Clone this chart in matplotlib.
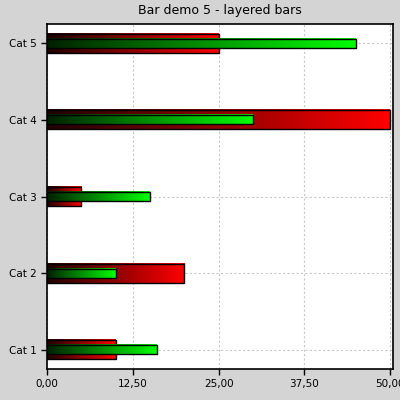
import numpy as np
import matplotlib
matplotlib.use('Agg')
import matplotlib.pyplot as plt
from matplotlib.colors import LinearSegmentedColormap
from matplotlib.patches import Rectangle
from matplotlib.ticker import FuncFormatter

# data
categories = ['Cat 1', 'Cat 2', 'Cat 3', 'Cat 4', 'Cat 5']
red_values = [10, 20, 5, 50, 25]
green_values = [16, 10, 15, 30, 45]
x_ticks = [0, 12.5, 25, 37.5, 50]

red_cmap = LinearSegmentedColormap.from_list('r', ['#200000', '#ff0000'])
green_cmap = LinearSegmentedColormap.from_list('g', ['#002000', '#00ff00'])
grad = np.linspace(0, 1, 256).reshape(1, -1)

fig = plt.figure(figsize=(4, 4), dpi=100, facecolor='#d4d4d4')
ax = fig.add_axes([0.118, 0.0775, 0.865, 0.8625])
ax.set_facecolor('white')


def gradient_bar(y, value, height, cmap, z):
    ax.imshow(grad, cmap=cmap, aspect='auto', interpolation='bilinear',
              extent=(0, value, y - height / 2, y + height / 2), zorder=z)
    ax.add_patch(Rectangle((0, y - height / 2), value, height, fill=False,
                           edgecolor='black', linewidth=1, zorder=z + 0.5))


for i, cat in enumerate(categories):
    gradient_bar(i, red_values[i], 0.25, red_cmap, 2)
    gradient_bar(i, green_values[i], 0.12, green_cmap, 3)

ax.set_xlim(0, 50.45)
ax.set_ylim(-0.25, 4.25)
ax.set_yticks(range(len(categories)))
ax.set_yticklabels(categories)
ax.set_xticks(x_ticks)
ax.xaxis.set_major_formatter(FuncFormatter(lambda v, p: f'{v:.2f}'.replace('.', ',')))
ax.tick_params(labelsize=7.5, length=4, width=1, color='black')
ax.grid(True, linestyle=(0, (2, 2)), color='#c8c8c8', linewidth=0.8, zorder=0)
ax.set_axisbelow(True)
for s in ax.spines.values():
    s.set_linewidth(1.2)

ax.set_title('Bar demo 5 - layered bars', fontsize=9, pad=7)

fig.savefig('out.png', dpi=100, facecolor=fig.get_facecolor())
